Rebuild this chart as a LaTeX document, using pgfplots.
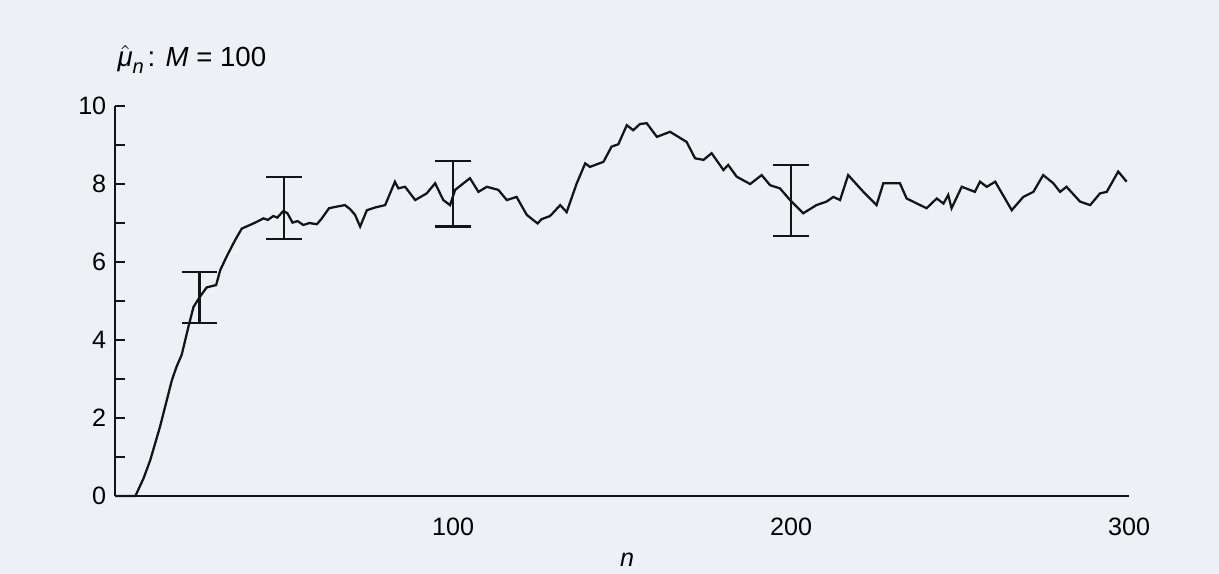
\documentclass[border=0pt]{standalone}
\usepackage{fontspec}
\setmainfont{Liberation Sans}
\usepackage{pgfplots}
\pgfplotsset{compat=1.18}
\definecolor{paper}{RGB}{237,240,244}
\definecolor{ink}{RGB}{20,20,22}

\begin{document}
\begin{tikzpicture}
% page area, same proportions as the scan
\fill[paper, use as bounding box] (-45.8pt,-31pt) rectangle (439.3pt,197.4pt);
\begin{axis}[
  name=ax,
  scale only axis,
  width=403.5pt, height=155.2pt,
  xmin=0, xmax=300, ymin=0, ymax=10,
  axis lines=left,
  axis line style={-, line width=0.9pt, ink},
  xtick={50,100,...,300},
  xticklabels={,100,,200,,300},
  ytick={0,2,...,10},
  minor ytick={1,3,...,9},
  tick align=inside,
  y tick style={line width=0.9pt, ink},
  major tick length=4pt, minor tick length=4pt,
  x tick style={draw=none},
  xticklabel style={yshift=-5pt},
  xlabel={\itshape n},
  xlabel style={at={(axis description cs:0.505,0)}, anchor=center, yshift=-25.5pt},
  /pgf/number format/assume math mode=true,
  unbounded coords=jump,
  clip=false,
]
\addplot[ink, line width=0.9pt, mark=none] coordinates {
(0,0) (6,0) (8.4,0.45) (10.4,0.92) (13.3,1.78) (16.8,2.97) (18.2,3.32)
(19.7,3.62) (21.7,4.34) (23.2,4.85) (25.1,5.11) (27.1,5.35) (29.9,5.41)
(31.1,5.79) (33.0,6.14) (35.5,6.56) (37.5,6.86) (39.9,6.95) (41.9,7.03)
(43.9,7.12) (45.2,7.08) (46.8,7.18) (48.0,7.14) (49.8,7.31) (51.0,7.25)
(52.5,7.01) (54.0,7.05) (55.7,6.95) (57.5,7.00) (59.7,6.97)
(61.0,7.10) (63.3,7.38) (65.5,7.42) (68.0,7.46) (69.5,7.36) (71.0,7.21) (72.5,6.91)
(74.5,7.33) (77.0,7.40) (79.9,7.46)
(82.8,8.06) (83.8,7.89) (85.8,7.93) (88.8,7.59) (92.2,7.76) (94.7,8.02)
(97.1,7.59) (99.1,7.46) (100.6,7.85) (105.0,8.15) (107.5,7.80) (110.0,7.93)
(113.4,7.85) (115.9,7.59) (118.8,7.67) (121.8,7.21) (125.0,6.99) (126.2,7.10)
(128.7,7.18) (131.7,7.46) (133.6,7.28) (136.6,8.02) (139.1,8.53) (140.5,8.44)
(144.5,8.57) (146.9,8.96) (148.9,9.02) (151.4,9.51) (153.3,9.38) (155.3,9.54)
(157.3,9.56) (160.3,9.21) (164.2,9.34) (169.1,9.08) (171.6,8.66) (174.1,8.62)
(176.5,8.79) (180.0,8.36) (181.4,8.49) (183.9,8.19) (187.9,8.00) (191.3,8.23)
(193.8,7.97) (196.7,7.89) (199.7,7.59) (203.6,7.25) (207.5,7.46) (210.5,7.55)
(212.5,7.67) (214.5,7.59) (216.9,8.23) (221.4,7.80) (225.3,7.46) (227.3,8.02)
(232.2,8.02) (234.2,7.63) (240.1,7.38) (243.1,7.63) (245.1,7.50) (246.5,7.72)
(247.5,7.38) (250.5,7.93) (254.4,7.80) (255.9,8.06) (257.9,7.93) (260.4,8.06)
(265.3,7.33) (268.7,7.67) (271.7,7.80) (274.6,8.23) (277.6,8.02) (279.6,7.80)
(281.5,7.93) (285.5,7.55) (288.5,7.46) (291.4,7.76) (293.4,7.80) (296.8,8.32)
(299.3,8.06)
};
% interval bars at n = 25, 50, 100, 200 (low and high ends, capped)
\addplot[ink, line width=0.9pt, mark=-, mark size=7pt,
  mark options={line width=0.9pt, solid}] coordinates {
  (25,4.44) (25,5.74) (nan,nan)
  (50,6.585) (50,8.185) (nan,nan)
  (100,6.91) (100,8.59) (nan,nan)
  (200,6.67) (200,8.49)
};
\end{axis}
\node[anchor=base west, inner sep=0pt] at (0.8pt,170.8pt)
  {\fontsize{11}{13}\selectfont $\hat{\mbox{\itshape μ}}_{\mbox{\footnotesize\itshape n}}$\kern1pt: \textit{M} = 100};
\end{tikzpicture}
\end{document}
